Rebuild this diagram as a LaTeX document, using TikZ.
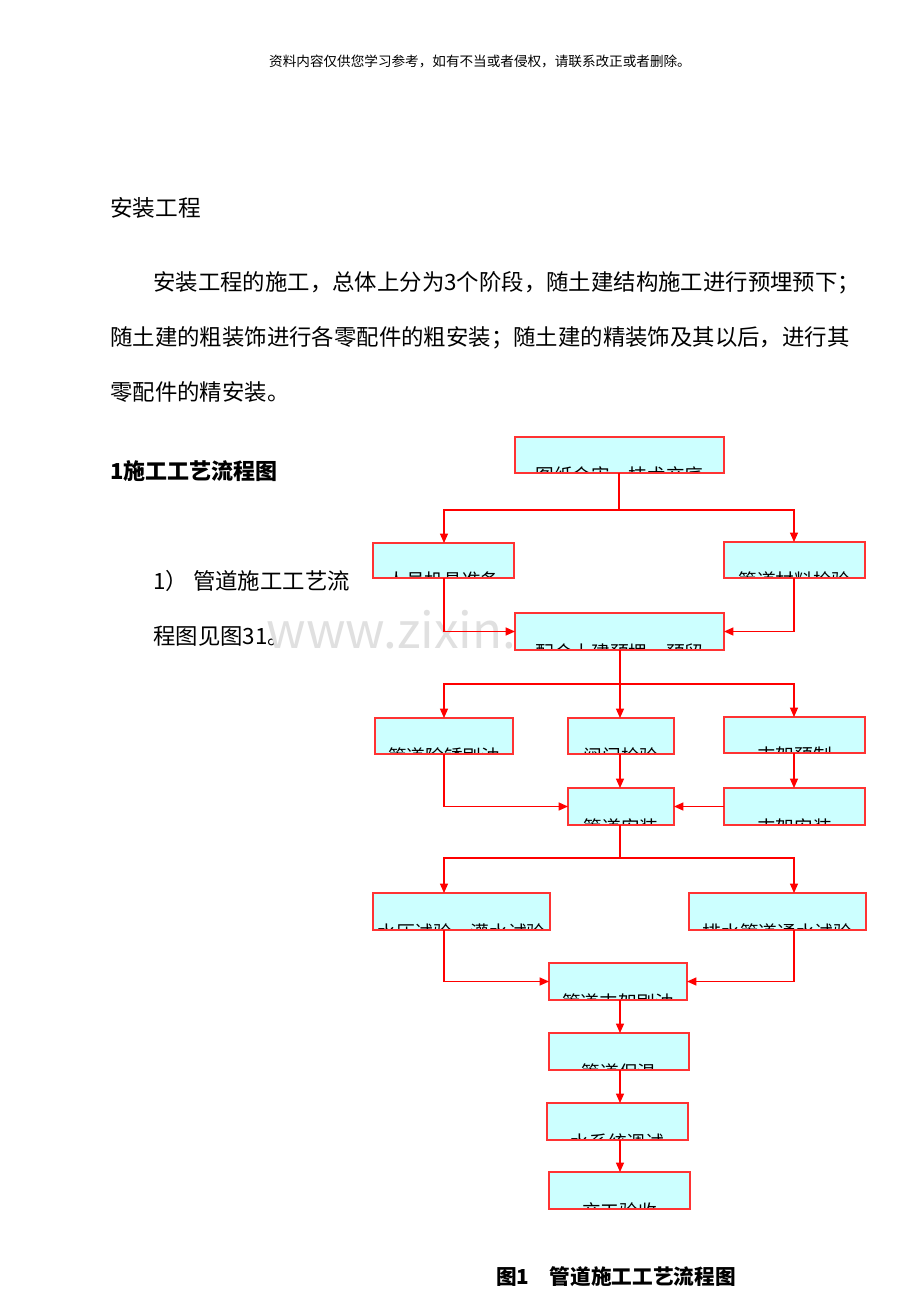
\documentclass[tikz,border=0pt]{standalone}
\usepackage{fontspec}
\setmainfont{Noto Sans CJK SC}
\usetikzlibrary{arrows.meta}
\definecolor{boxfill}{HTML}{CCFFFF}
\definecolor{boxline}{HTML}{FF3333}
\tikzset{x=0.75pt,y=-0.75pt,
  conn/.style={draw=red,line width=0.9pt},
  arr/.style={conn,-{Triangle[length=7pt,width=6pt]}},
  body/.style={anchor=west,inner sep=0,font=\fontsize{16.8pt}{18pt}\selectfont},
  boxtxt/.style={inner sep=0,font=\fontsize{14pt}{16pt}\selectfont}}
\newcommand{\fbx}[6]{%
  \path[fill=boxfill,draw=boxline,line width=1pt] (#2,#3) rectangle (#4,#5);
  \coordinate (#1-w) at (#2,{(#3+#5)/2});
  \coordinate (#1-e) at (#4,{(#3+#5)/2});
  \begin{scope}
    \clip (#2,#3) rectangle (#4,#5-1.5);
    \node[boxtxt] (#1-t) at ({(#2+#4)/2},#5+2) {#6};
  \end{scope}}
\begin{document}
\begin{tikzpicture}
\path[fill=white] (0,0) rectangle (920,1302);
\node[font=\fontsize{10.2pt}{11pt}\selectfont] (hdr) at (480,61) {资料内容仅供您学习参考，如有不当或者侵权，请联系改正或者删除。};
\node[body,font=\fontsize{17pt}{18pt}\selectfont] (t1) at (110,208) {安装工程};
\node[body] (p1) at (153,283) {安装工程的施工，总体上分为3个阶段，随土建结构施工进行预埋预下；};
\node[body] (p2) at (110,338) {随土建的粗装饰进行各零配件的粗安装；随土建的精装饰及其以后，进行其};
\node[body] (p3) at (110,392) {零配件的精安装。};
\node[body,font=\bfseries\fontsize{16.5pt}{18pt}\selectfont] (t2) at (110,471) {1施工工艺流程图};
\node[body] (p4) at (153,581) {1） 管道施工工艺流};
\node[body] (p5) at (153,636) {程图见图31。};
\node[text=black!12,font=\fontsize{37pt}{40pt}\selectfont] (wm) at (475,630) {www.zixin.com.cn};

\fbx{b1}{515}{437}{724}{473}{图纸会审、技术交底}
\fbx{b2}{373}{543}{514}{578}{人员机具准备}
\fbx{b3}{724}{542}{865}{578}{管道材料检验}
\fbx{b4}{515}{613}{724}{650}{配合土建预埋、预留}
\fbx{b5}{375}{718}{513}{754}{管道除锈刷油}
\fbx{b6}{568}{718}{674}{754}{阀门检验}
\fbx{b7}{724}{717}{865}{753}{支架预制}
\fbx{b8}{568}{788}{674}{825}{管道安装}
\fbx{b9}{724}{788}{865}{825}{支架安装}
\fbx{b10}{373}{893}{550}{930}{水压试验、灌水试验}
\fbx{b11}{689}{893}{866}{930}{排水管道通水试验}
\fbx{b12}{549}{963}{687}{1000}{管道支架刷油}
\fbx{b13}{549}{1033}{689}{1070}{管道保温}
\fbx{b14}{547}{1103}{688}{1140}{水系统调试}
\fbx{b15}{549}{1172}{690}{1209}{交工验收}

\coordinate (j1) at (619,510);
\draw[conn] (619,473) -- (j1);
\draw[arr] (j1) -| (444,543);
\draw[arr] (j1) -| (794,542);
\draw[arr] (444,578) |- (b4-w);
\draw[arr] (794,578) |- (b4-e);
\coordinate (j2) at (620,684);
\draw[conn] (620,650) -- (j2);
\draw[arr] (j2) -| (444,718);
\draw[arr] (j2) -- (620,718);
\draw[arr] (j2) -| (794,717);
\draw[arr] (620,754) -- (620,788);
\draw[arr] (794,753) -- (794,788);
\draw[arr] (444,754) |- (b8-w);
\draw[arr] (b9-w) -- (b8-e);
\coordinate (j3) at (620,858);
\draw[conn] (620,825) -- (j3);
\draw[arr] (j3) -| (444,893);
\draw[arr] (j3) -| (794,893);
\draw[arr] (444,930) |- (b12-w);
\draw[arr] (794,930) |- (b12-e);
\draw[arr] (620,1000) -- (620,1033);
\draw[arr] (620,1070) -- (620,1103);
\draw[arr] (620,1140) -- (620,1172);

\node[font=\bfseries\fontsize{15.5pt}{17pt}\selectfont] (cap) at (616,1277) {图1\quad 管道施工工艺流程图};
\useasboundingbox (0,0) rectangle (920,1302);
\end{tikzpicture}
\end{document}
